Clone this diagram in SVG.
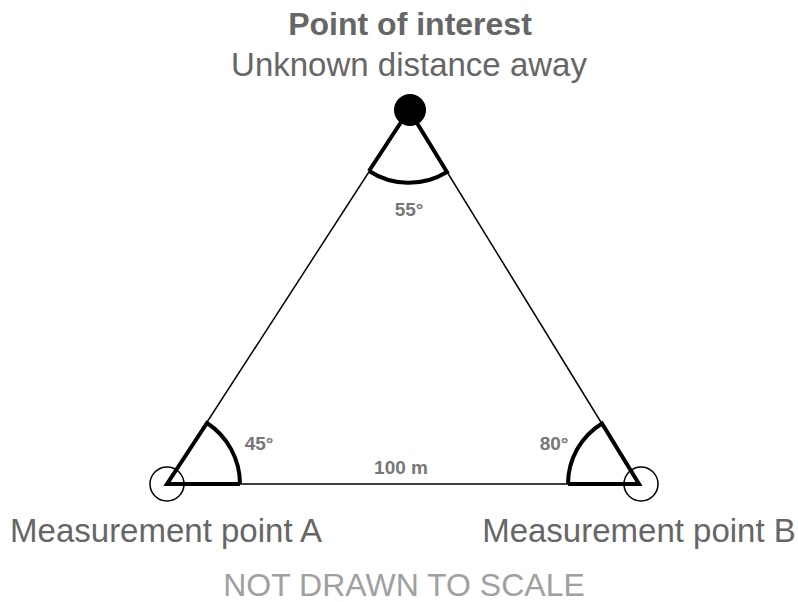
<svg xmlns="http://www.w3.org/2000/svg" width="798" height="602" viewBox="0 0 798 602">
<style>
.t{font-family:"Liberation Sans",Arial,sans-serif;fill:#666;text-anchor:middle}
.big{font-size:33px}
.lbl{font-size:19px;font-weight:bold;fill:#777}
.thin{stroke:#000;stroke-width:1.5;fill:none}
.thick{stroke:#000;stroke-width:4;fill:none;stroke-linejoin:miter}
</style>
<rect width="798" height="602" fill="#fff"/>
<g id="connectors">
<line class="thin" x1="167" y1="484" x2="409" y2="110"/>
<line class="thin" x1="409" y1="110" x2="639" y2="484"/>
<line class="thin" x1="167" y1="484" x2="639" y2="484"/>
<text class="t lbl" x="401" y="474">100 m</text>
</g>
<g id="angleA">
<path class="thick" d="M240,484 L167,484 L207,423 A73,73 0 0 1 240,484"/>
<circle class="thin" cx="167" cy="484" r="17"/>
<text class="t lbl" x="259" y="450">45°</text>
</g>
<g id="angleB">
<path class="thick" d="M568,484 L639,484 L602,423.5 A71,71 0 0 0 568,484"/>
<circle class="thin" cx="641" cy="484" r="17"/>
<text class="t lbl" x="554" y="450">80°</text>
</g>
<g id="poi">
<path class="thick" d="M369,171 L409,110 L447,172 A73,73 0 0 1 369,171"/>
<circle cx="410" cy="110" r="16" fill="#000"/>
<text class="t lbl" x="409" y="216">55°</text>
<text class="t" x="410" y="35" font-size="32" font-weight="bold">Point of interest</text>
<text class="t big" x="409" y="76">Unknown distance away</text>
</g>
<g id="labelA">
<text class="t big" x="166" y="542">Measurement point A</text>
</g>
<g id="labelB">
<text class="t big" x="639" y="542">Measurement point B</text>
</g>
<text class="t" x="404" y="596" font-size="32" style="fill:#a0a0a0">NOT DRAWN TO SCALE</text>
</svg>
